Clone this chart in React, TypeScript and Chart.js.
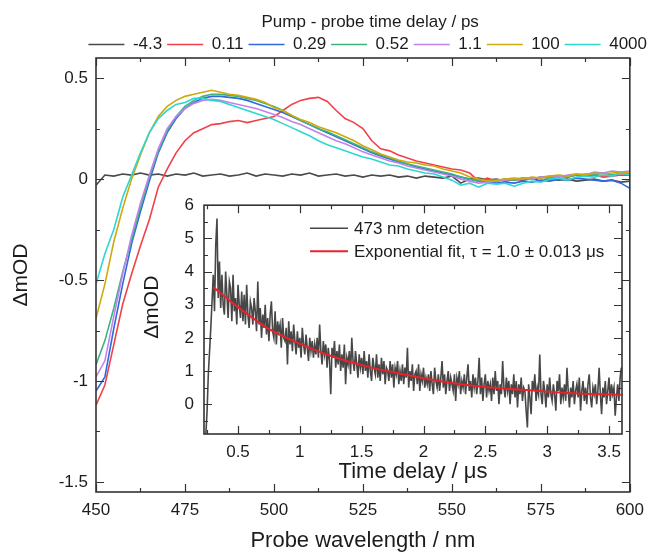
import React, { useEffect, useRef } from 'react';
import { Chart, registerables } from 'chart.js';

Chart.register(...registerables);

const FONT = "'Liberation Sans', Arial, Helvetica, sans-serif";
const TEXT = '#1c1c1c';
const FRAME = '#333333';

// ---------- main chart data ----------
const wavelengths = [
  450, 452.5, 455, 457.5, 460, 462.5, 465, 467.5, 470, 472.5,
  475, 477.5, 480, 482.5, 485, 487.5, 490, 492.5, 495, 497.5,
  500, 502.5, 505, 507.5, 510, 512.5, 515, 517.5, 520, 522.5,
  525, 527.5, 530, 532.5, 535, 537.5, 540, 542.5, 545, 547.5,
  550, 552.5, 555, 557.5, 560, 562.5, 565, 567.5, 570, 572.5,
  575, 577.5, 580, 582.5, 585, 587.5, 590, 592.5, 595, 597.5,
  600,
];

const delayLabels = ['-4.3', '0.11', '0.29', '0.52', '1.1', '100', '4000'];
const delayColors = ['#4a4a4a', '#f2404a', '#2f6bdc', '#3db37f', '#c083ec', '#cfa80c', '#2ed6d2'];

const delayM4_3 = [
  -0.03, 0.02, 0.015, 0.025, 0.02, 0.03, 0.02, 0.025, 0.015, 0.025,
  0.02, 0.03, 0.015, 0.02, 0.025, 0.015, 0.02, 0.03, 0.015, 0.025,
  0.02, 0.015, 0.025, 0.02, 0.03, 0.015, 0.02, 0.025, 0.015, 0.02,
  0.01, 0.02, 0.015, 0.02, 0.01, 0.015, 0.005, 0.015, 0.01, 0.005,
  0.015, -0.02, 0.0, 0.005, -0.005, 0.0, -0.01, 0.0, -0.005, 0.005,
  -0.01, 0.0, -0.005, 0.0, -0.01, -0.005, 0.0, -0.01, -0.005, -0.015,
  -0.01,
];
const delay0_11 = [
  -1.12, -1.02, -0.82, -0.62, -0.47, -0.33, -0.2, -0.04, 0.05, 0.13,
  0.19, 0.23, 0.25, 0.27, 0.275, 0.285, 0.29, 0.28, 0.29, 0.3,
  0.31, 0.34, 0.37, 0.39, 0.4, 0.405, 0.385, 0.34, 0.3, 0.28,
  0.25, 0.19, 0.15, 0.14, 0.12, 0.105, 0.09, 0.08, 0.07, 0.06,
  0.05, 0.045, 0.03, -0.01, 0.005, -0.01, 0.0, -0.005, 0.005, 0.0,
  0.01, 0.005, 0.015, 0.01, 0.02, 0.015, 0.02, 0.01, 0.015, 0.02,
  0.02,
];
const delay0_29 = [
  -1.05, -0.98, -0.74, -0.52, -0.32, -0.16, -0.01, 0.13, 0.23, 0.3,
  0.35, 0.38, 0.4, 0.41, 0.41, 0.405, 0.4, 0.39, 0.375, 0.36,
  0.345, 0.33, 0.31, 0.29, 0.27, 0.25, 0.23, 0.21, 0.19, 0.17,
  0.15, 0.13, 0.115, 0.1, 0.085, 0.075, 0.06, 0.05, 0.04, 0.03,
  0.02, 0.01, 0.0, -0.01, -0.015, -0.02, -0.015, -0.02, -0.01, -0.015,
  -0.005, -0.01, 0.0, -0.005, 0.005, 0.0, -0.005, -0.01, -0.005, -0.02,
  -0.045,
];
const delay0_52 = [
  -0.92, -0.8, -0.64, -0.46, -0.3, -0.14, 0.01, 0.14, 0.24, 0.31,
  0.36, 0.39, 0.41, 0.42, 0.42, 0.415, 0.41, 0.4, 0.39, 0.375,
  0.36, 0.34, 0.315, 0.29, 0.27, 0.25, 0.235, 0.215, 0.195, 0.175,
  0.155, 0.135, 0.12, 0.105, 0.09, 0.075, 0.065, 0.055, 0.045, 0.035,
  0.025, 0.01, 0.0, -0.01, -0.005, -0.01, 0.0, -0.005, 0.005, 0.0,
  0.01, 0.005, 0.015, 0.01, 0.02, 0.025, 0.02, 0.03, 0.02, 0.03,
  0.025,
];
const delay1_1 = [
  -0.98, -0.9, -0.68, -0.47, -0.28, -0.12, 0.02, 0.15, 0.25, 0.31,
  0.35, 0.375, 0.39, 0.395, 0.39, 0.38, 0.37, 0.36, 0.35, 0.335,
  0.32, 0.305, 0.285, 0.27, 0.25, 0.23, 0.21, 0.19, 0.175, 0.155,
  0.135, 0.12, 0.105, 0.09, 0.08, 0.065, 0.055, 0.045, 0.035, 0.025,
  0.015, 0.0, -0.01, -0.02, -0.015, -0.01, -0.005, 0.0, 0.005, 0.0,
  0.01, 0.015, 0.01, 0.02, 0.025, 0.02, 0.035, 0.03, 0.04, 0.035,
  0.04,
];
const delay100 = [
  -0.69, -0.52, -0.31, -0.145, 0.0, 0.12, 0.23, 0.31, 0.36, 0.39,
  0.41, 0.42, 0.43, 0.44, 0.43, 0.42, 0.415, 0.405, 0.395, 0.38,
  0.355, 0.34, 0.315, 0.295, 0.28, 0.26, 0.245, 0.23, 0.21, 0.19,
  0.165, 0.145, 0.125, 0.11, 0.095, 0.085, 0.08, 0.07, 0.065, 0.05,
  0.04, 0.03, 0.01, 0.0, -0.01, -0.005, 0.0, 0.005, 0.0, 0.01,
  0.005, 0.015, 0.02, 0.015, 0.025, 0.02, 0.03, 0.025, 0.03, 0.035,
  0.03,
];
const delay4000 = [
  -0.52, -0.37, -0.25, -0.09, 0.02, 0.13, 0.23, 0.3, 0.34, 0.37,
  0.38, 0.4, 0.4, 0.39, 0.385, 0.37, 0.355, 0.34, 0.325, 0.31,
  0.295, 0.275, 0.255, 0.235, 0.215, 0.19, 0.17, 0.155, 0.14, 0.125,
  0.11, 0.1, 0.085, 0.07, 0.065, 0.05, 0.04, 0.03, 0.025, 0.01,
  -0.005, -0.03, -0.02, -0.04, -0.02, -0.025, -0.02, -0.035, -0.02, -0.01,
  -0.015, 0.0, 0.005, -0.005, 0.01, 0.015, 0.01, 0.02, 0.015, 0.03,
  0.02,
];
const delaySeries = [delayM4_3, delay0_11, delay0_29, delay0_52, delay1_1, delay100, delay4000];

// ---------- inset data ----------
const TRACE_T0 = 0.24; // µs, first sample
const TRACE_DT = 0.01; // µs, sample spacing
const traceValues = [
  -0.9, -0.2, 0.9, 1.6, 2.3, 3.1, 3.9, 2.8, 4.8, 5.6,
  3.2, 4.3, 2.9, 3.9, 3.0, 2.7, 4.0, 3.3, 2.6, 3.7,
  3.5, 2.5, 3.9, 2.8, 3.2, 2.4, 3.6, 3.0, 2.6, 3.4,
  2.5, 3.3, 2.4, 3.6, 2.7, 2.3, 3.1, 2.9, 2.4, 3.2,
  2.8, 2.2, 3.7, 2.4, 2.9, 2.0, 2.7, 2.3, 3.0, 2.1,
  2.6, 1.9, 2.7, 3.1, 2.2, 2.0, 2.8, 1.8, 2.5, 2.2,
  2.4, 1.7, 2.6, 2.0, 1.9, 2.3, 1.2, 2.5, 1.8, 2.2,
  1.6, 2.4, 1.9, 1.5, 2.2, 1.7, 2.0, 1.4, 2.3, 1.8,
  1.5, 2.1, 1.7, 1.3, 2.0, 1.6, 1.9, 1.4, 1.8, 1.5,
  2.0, 1.4, 2.4, 1.6, 1.2, 1.9, 1.5, 1.8, 1.1, 1.7,
  1.3, 0.3, 1.7, 1.4, 1.9, 1.1, 1.6, 1.2, 1.8, 1.0,
  1.5, 1.1, 1.8, 0.6, 1.4, 1.2, 1.6, 0.9, 2.0, 1.3,
  1.0, 1.6, 1.2, 0.8, 1.5, 1.1, 1.4, 0.9, 1.6, 1.0,
  1.3, 0.8, 1.5, 1.0, 0.7, 1.4, 1.1, 0.9, 1.5, 0.8,
  1.2, 0.7, 1.4, 0.9, 1.3, 0.6, 1.1, 1.0, 0.7, 1.3,
  0.8, 1.2, 0.5, 1.1, 0.9, 1.3, 0.6, 1.0, 0.7, 1.2,
  0.6, 1.1, 0.8, 1.7, 0.5, 1.0, 0.7, 1.2, 0.4, 0.9,
  1.0, 0.6, 1.2, 0.4, 0.9, 0.7, 1.1, 0.5, 0.8, 0.6,
  0.9, 0.4, 1.0, 0.6, 0.3, 1.1, 0.7, 0.5, 0.9, 0.4,
  0.8, 1.3, 0.5, 0.9, 0.3, 0.7, 1.0, 0.4, 0.8, 0.6,
  0.4, 0.9, 0.1, 0.8, 0.6, 1.0, 0.3, 0.7, 0.5, 0.9,
  0.3, 0.8, 1.2, 0.4, 0.7, 0.2, 0.9, 0.5, 0.8, 0.3,
  0.7, 1.4, 0.3, 0.8, 0.1, 0.6, 0.9, 0.2, 0.7, 0.4,
  0.6, 0.1, 0.8, 0.3, 1.0, 0.4, 0.7, 0.0, 0.6, 0.3,
  1.3, 0.5, 0.2, 0.8, 0.4, 0.7, 0.0, 0.6, 0.3, 0.9,
  0.2, 0.7, -0.1, 0.6, 0.3, 0.8, 0.1, 0.5, 0.4, -0.2,
  -0.7, 0.6, 0.2, -0.3, 0.7, 0.4, 0.9, 0.1, 0.5, 0.3,
  1.5, 0.3, 0.0, 0.7, 0.4, -0.1, 0.6, 0.2, 0.8, 0.3,
  0.1, 0.6, 0.3, -0.2, 0.7, 0.4, 0.9, 0.0, 0.5, 0.2,
  0.6, 0.1, 1.1, 0.4, -0.1, 0.5, 0.2, 0.7, 0.0, 0.4,
  0.6, 0.2, 0.8, -0.2, 0.4, 0.7, 0.1, 0.5, 0.0, 0.6,
  0.9, 0.2, -0.1, 0.5, 0.3, 0.6, 0.0, 0.4, 1.1, 0.3,
  -0.3, 0.5, 0.2, 0.7, 0.0, 0.4, 0.8, 0.1, 0.6, 0.3,
  0.5, -0.35, 0.2, 0.6, 0.1, 0.8, 1.1,
];
const fitTimes = [0.3, 0.46, 0.6, 0.73, 1.0, 1.27, 1.54, 1.81, 2.08, 2.35, 2.62, 2.89, 3.16, 3.6];
const fitValues = [3.53, 3.04, 2.65, 2.31, 1.82, 1.43, 1.14, 0.92, 0.73, 0.58, 0.48, 0.41, 0.34, 0.28];
const traceLabel = '473 nm detection';
const fitLabel = 'Exponential fit, \u03C4 = 1.0 \u00B1 0.013 \u03BCs';

const fmt = (v: number) => String(Math.round(Number(v) * 100) / 100);

// ---------- plugins ----------
function frameTicks(id: string, xMajor: number, xMinor: number, yMajor: number, yMinor: number) {
  return {
    id,
    afterDatasetsDraw(chart: any) {
      const { ctx, chartArea: a, scales } = chart;
      const xs = scales.x;
      const ys = scales.y;
      const majorLen = 8;
      const minorLen = 4;
      ctx.save();
      ctx.strokeStyle = FRAME;
      ctx.lineWidth = 1.2;
      ctx.beginPath();
      const k0x = Math.ceil(xs.min / xMinor - 1e-9);
      const k1x = Math.floor(xs.max / xMinor + 1e-9);
      for (let k = k0x; k <= k1x; k++) {
        const v = k * xMinor;
        const r = v / xMajor;
        const len = Math.abs(r - Math.round(r)) < 1e-6 ? majorLen : minorLen;
        const p = Math.round(xs.getPixelForValue(v)) + 0.5;
        ctx.moveTo(p, a.bottom);
        ctx.lineTo(p, a.bottom - len);
        ctx.moveTo(p, a.top);
        ctx.lineTo(p, a.top + len);
      }
      const k0y = Math.ceil(ys.min / yMinor - 1e-9);
      const k1y = Math.floor(ys.max / yMinor + 1e-9);
      for (let k = k0y; k <= k1y; k++) {
        const v = k * yMinor;
        const r = v / yMajor;
        const len = Math.abs(r - Math.round(r)) < 1e-6 ? majorLen : minorLen;
        const p = Math.round(ys.getPixelForValue(v)) + 0.5;
        ctx.moveTo(a.left, p);
        ctx.lineTo(a.left + len, p);
        ctx.moveTo(a.right, p);
        ctx.lineTo(a.right - len, p);
      }
      ctx.stroke();
      ctx.lineWidth = 1.6;
      ctx.strokeRect(a.left, a.top, a.right - a.left, a.bottom - a.top);
      ctx.restore();
    },
  };
}

const insetDecor = {
  id: 'insetDecor',
  afterDraw(chart: any) {
    const { ctx, chartArea: a } = chart;
    ctx.save();
    const items = [
      { text: traceLabel, color: '#474747', width: 1.5, dy: 23 },
      { text: fitLabel, color: '#e8232b', width: 2, dy: 46 },
    ];
    ctx.font = `17px ${FONT}`;
    ctx.textBaseline = 'middle';
    ctx.textAlign = 'left';
    for (const it of items) {
      const y = a.top + it.dy;
      ctx.strokeStyle = it.color;
      ctx.lineWidth = it.width;
      ctx.beginPath();
      ctx.moveTo(a.left + 106, y);
      ctx.lineTo(a.left + 144, y);
      ctx.stroke();
      ctx.fillStyle = TEXT;
      ctx.fillText(it.text, a.left + 150, y + 1);
    }
    ctx.translate(a.left - 52, a.top + 102);
    ctx.rotate(-Math.PI / 2);
    ctx.textAlign = 'center';
    ctx.font = `21px ${FONT}`;
    ctx.fillText('\u0394mOD', 0, 0);
    ctx.restore();
  },
};

export default function App() {
  const mainRef = useRef<HTMLCanvasElement>(null);
  const insetRef = useRef<HTMLCanvasElement>(null);

  useEffect(() => {
    const tickFont = { family: FONT, size: 17 };

    const mainChart = new Chart(mainRef.current as HTMLCanvasElement, {
      type: 'line',
      data: {
        datasets: delaySeries.map((vals, i) => ({
          label: delayLabels[i],
          data: wavelengths.map((w, j) => ({ x: w, y: vals[j] })),
          borderColor: delayColors[i],
          backgroundColor: delayColors[i],
          borderWidth: 1.6,
          pointRadius: 0,
          tension: 0,
          fill: false,
          order: delaySeries.length - i,
        })),
      },
      options: {
        animation: false,
        responsive: false,
        devicePixelRatio: 1,
        layout: { padding: 0 },
        plugins: {
          legend: {
            position: 'top',
            align: 'end',
            maxHeight: 58,
            title: {
              display: true,
              text: 'Pump - probe time delay / ps',
              color: TEXT,
              font: { family: FONT, size: 17, lineHeight: 1 },
              padding: { top: 14, bottom: 0 },
            },
            labels: {
              usePointStyle: true,
              pointStyle: 'line',
              pointStyleWidth: 36,
              padding: 5,
              color: TEXT,
              font: { family: FONT, size: 17 },
              sort: (a: any, b: any) => a.datasetIndex - b.datasetIndex,
            },
          },
          tooltip: { enabled: false },
        },
        scales: {
          x: {
            type: 'linear',
            position: 'bottom',
            min: 450,
            max: 600,
            grid: { display: false, drawTicks: false },
            border: { display: false },
            ticks: { stepSize: 25, padding: 8, color: TEXT, font: tickFont, maxRotation: 0, autoSkip: false, callback: fmt },
            title: {
              display: true,
              text: 'Probe wavelength / nm',
              color: TEXT,
              font: { family: FONT, size: 22 },
              padding: 0,
            },
            afterFit: (s: any) => { s.height = 62; },
          },
          y: {
            type: 'linear',
            position: 'left',
            min: -1.55,
            max: 0.6,
            grid: { display: false, drawTicks: false },
            border: { display: false },
            ticks: { stepSize: 0.5, includeBounds: false, padding: 8, color: TEXT, font: tickFont, callback: fmt },
            title: {
              display: true,
              text: '\u0394mOD',
              color: TEXT,
              font: { family: FONT, size: 21 },
              padding: { top: 9, bottom: 0 },
            },
            afterFit: (s: any) => { s.width = 96; },
          },
          yRight: {
            type: 'linear',
            position: 'right',
            display: true,
            grid: { display: false, drawTicks: false },
            border: { display: false },
            ticks: { display: false },
            afterFit: (s: any) => { s.width = 16; },
          },
        },
      } as any,
      plugins: [frameTicks('mainFrame', 25, 12.5, 0.5, 0.25)],
    });

    const insetChart = new Chart(insetRef.current as HTMLCanvasElement, {
      type: 'line',
      data: {
        datasets: [
          {
            label: traceLabel,
            data: traceValues.map((v, i) => ({ x: TRACE_T0 + i * TRACE_DT, y: v })),
            borderColor: '#474747',
            borderWidth: 1.6,
            pointRadius: 0,
            tension: 0,
            fill: false,
            order: 2,
          },
          {
            label: fitLabel,
            data: fitTimes.map((t, i) => ({ x: t, y: fitValues[i] })),
            borderColor: '#e8232b',
            borderWidth: 2,
            pointRadius: 0,
            cubicInterpolationMode: 'monotone',
            fill: false,
            order: 1,
          },
        ],
      },
      options: {
        animation: false,
        responsive: false,
        devicePixelRatio: 1,
        layout: { padding: { top: 14, right: 8, left: 0, bottom: 0 } },
        plugins: { legend: { display: false }, tooltip: { enabled: false } },
        scales: {
          x: {
            type: 'linear',
            min: 0.225,
            max: 3.605,
            grid: { display: false, drawTicks: false },
            border: { display: false },
            ticks: { stepSize: 0.5, includeBounds: false, padding: 8, color: TEXT, font: tickFont, maxRotation: 0, autoSkip: false, callback: fmt },
            title: {
              display: true,
              text: 'Time delay / \u03BCs',
              color: TEXT,
              font: { family: FONT, size: 22 },
              padding: 0,
            },
            afterFit: (s: any) => { s.height = 51; },
          },
          y: {
            type: 'linear',
            min: -0.9,
            max: 6,
            grid: { display: false, drawTicks: false },
            border: { display: false },
            ticks: { stepSize: 1, includeBounds: false, padding: 10, color: TEXT, font: tickFont, callback: fmt },
            afterFit: (s: any) => { s.width = 74; },
          },
        },
      } as any,
      plugins: [frameTicks('insetFrame', 0.5, 0.25, 1, 0.5), insetDecor],
    });

    return () => {
      mainChart.destroy();
      insetChart.destroy();
    };
  }, []);

  return (
    <div style={{ position: 'absolute', left: 0, top: 0, width: 652, height: 554, background: '#ffffff' }}>
      <canvas ref={mainRef} width={652} height={554} style={{ position: 'absolute', left: 0, top: 0 }} />
      <canvas ref={insetRef} width={500} height={300} style={{ position: 'absolute', left: 130, top: 185 }} />
    </div>
  );
}
